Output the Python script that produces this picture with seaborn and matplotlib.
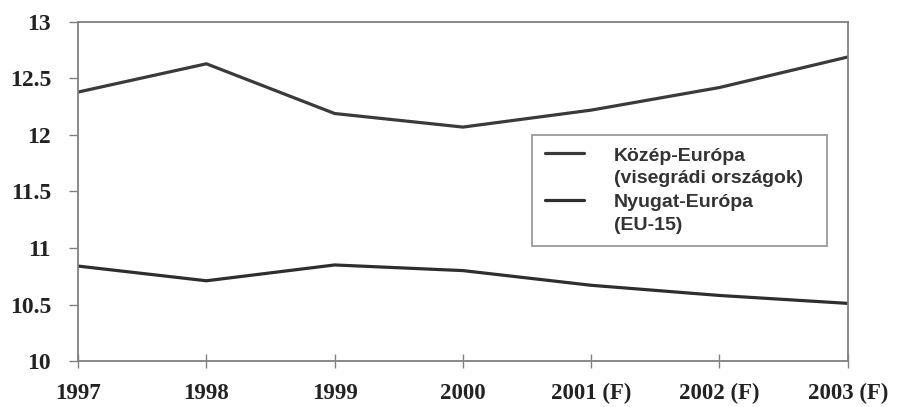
import matplotlib
matplotlib.use("Agg")
import matplotlib.pyplot as plt
from matplotlib.legend_handler import HandlerLine2D
import seaborn as sns
import pandas as pd
import numpy as np

years = ["1997", "1998", "1999", "2000", "2001 (F)", "2002 (F)", "2003 (F)"]
kozep_europa = [12.38, 12.63, 12.19, 12.07, 12.22, 12.42, 12.69]
nyugat_europa = [10.84, 10.71, 10.85, 10.80, 10.67, 10.58, 10.51]
series_names = ["Közép-Európa\n(visegrádi országok)", "Nyugat-Európa\n(EU-15)"]

df = pd.DataFrame({
    "x": list(range(len(years))) * 2,
    "value": kozep_europa + nyugat_europa,
    "series": [series_names[0]] * len(years) + [series_names[1]] * len(years),
})


class FirstLineHandler(HandlerLine2D):
    """Place the legend line level with the first line of a two-line label."""
    def create_artists(self, legend, orig_handle, xdescent, ydescent,
                       width, height, fontsize, trans):
        artists = super().create_artists(legend, orig_handle, xdescent, ydescent,
                                         width, height, fontsize, trans)
        for a in artists:
            a.set_ydata(np.asarray(a.get_ydata()) + 0.72 * fontsize)
        return artists


sns.set_theme(style="white")
plt.rcParams["font.family"] = ["Liberation Serif", "DejaVu Serif"]

fig = plt.figure(figsize=(8.98, 4.07), dpi=100)
ax = fig.add_axes([0.087, 0.113, 0.857, 0.833])

sns.lineplot(data=df, x="x", y="value", hue="series",
             palette=["#3a3a3a", "#2e2e2e"], linewidth=2.3, ax=ax,
             legend=True)

ax.set_xlim(0, len(years) - 1)
ax.set_ylim(10, 13)
ax.set_xticks(range(len(years)))
ax.set_xticklabels(years, fontsize=16.5, fontweight="bold", color="#222222")
ax.set_yticks([10, 10.5, 11, 11.5, 12, 12.5, 13])
ax.set_yticklabels(["10", "10.5", "11", "11.5", "12", "12.5", "13"],
                   fontsize=17, fontweight="bold", color="#222222")
ax.set_xlabel("")
ax.set_ylabel("")

for s in ax.spines.values():
    s.set_visible(True)
    s.set_color("#808080")
    s.set_linewidth(1.3)

ax.tick_params(axis="y", direction="out", length=6.5, width=1.0, color="#808080", pad=13, left=True)
ax.tick_params(axis="x", direction="inout", length=10, width=1.0, color="#808080", pad=11, bottom=True)

handles, labels = ax.get_legend_handles_labels()
leg = ax.legend(handles, labels, loc="upper left",
                bbox_to_anchor=(0.5896, 0.667, 0.383, 0.0), mode="expand",
                borderaxespad=0, frameon=True,
                fancybox=False, edgecolor="#808080", handlelength=2.05,
                handletextpad=1.5, borderpad=0.65, labelspacing=0.4,
                handler_map={h: FirstLineHandler() for h in handles},
                prop={"family": "Liberation Sans", "weight": "bold", "size": 14})
leg.get_frame().set_linewidth(1.3)
for t in leg.get_texts():
    t.set_color("#333333")
    t.set_linespacing(1.4)

fig.savefig("out.png", dpi=100, facecolor="white")
